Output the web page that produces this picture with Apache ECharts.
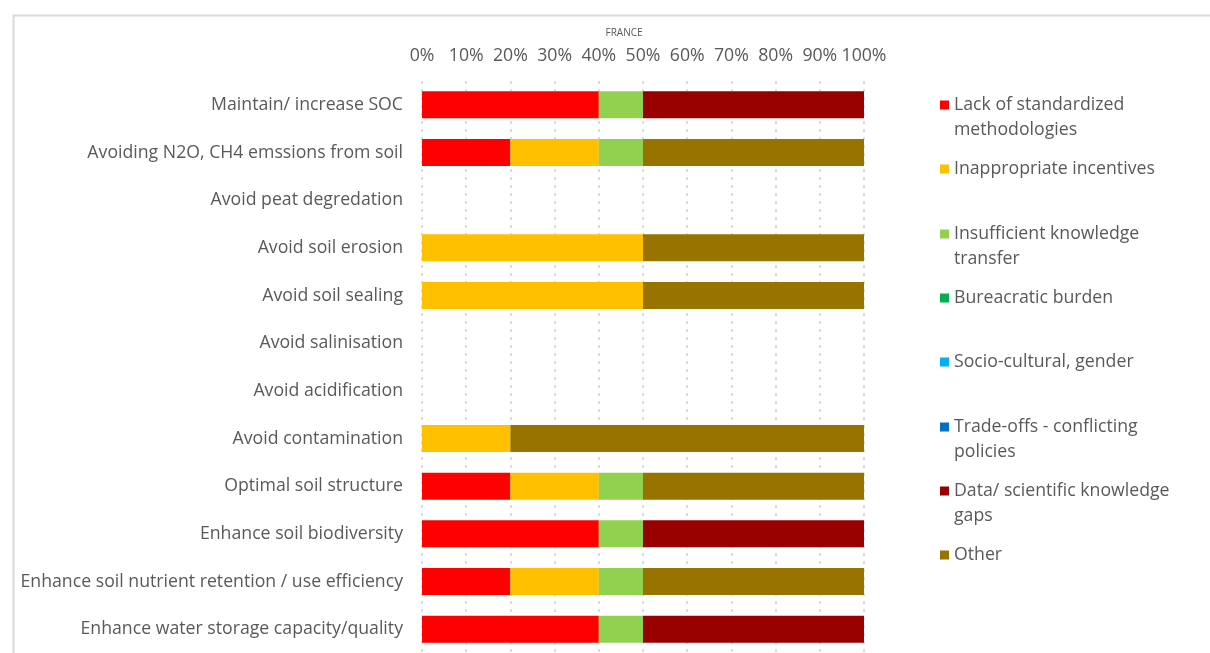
<!DOCTYPE html>
<html>
<head>
<meta charset="utf-8">
<title>France – barriers by soil objective</title>
<script src="https://cdn.jsdelivr.net/npm/echarts@6/dist/echarts.min.js"></script>
<style>
  html, body { margin: 0; padding: 0; background: #ffffff; }
  #chart { width: 1210px; height: 653px; }
</style>
</head>
<body>
<div id="chart"></div>
<script>
// Soil objectives (top to bottom)
const categories = [
  'Maintain/ increase SOC',
  'Avoiding N2O, CH4 emssions from soil',
  'Avoid peat degredation',
  'Avoid soil erosion',
  'Avoid soil sealing',
  'Avoid salinisation',
  'Avoid acidification',
  'Avoid contamination',
  'Optimal soil structure',
  'Enhance soil biodiversity',
  'Enhance soil nutrient retention / use efficiency',
  'Enhance water storage capacity/quality'
];

// Share of responses per barrier (%), one value per objective
const lackStandardized   = [40, 20, 0, 0, 0, 0, 0, 0, 20, 40, 20, 40];
const inappropriateInc   = [0, 20, 0, 50, 50, 0, 0, 20, 20, 0, 20, 0];
const insufficientTransf = [10, 10, 0, 0, 0, 0, 0, 0, 10, 10, 10, 10];
const bureaucratic       = [0, 0, 0, 0, 0, 0, 0, 0, 0, 0, 0, 0];
const socioCultural      = [0, 0, 0, 0, 0, 0, 0, 0, 0, 0, 0, 0];
const tradeOffs          = [0, 0, 0, 0, 0, 0, 0, 0, 0, 0, 0, 0];
const dataGaps           = [50, 0, 0, 0, 0, 0, 0, 0, 0, 50, 0, 50];
const other              = [0, 50, 0, 50, 50, 0, 0, 80, 50, 0, 50, 0];

// Percent axis ticks
const tickValues = [0, 10, 20, 30, 40, 50, 60, 70, 80, 90, 100];

const seriesDefs = [
  { name: 'Lack of standardized\nmethodologies', data: lackStandardized, color: '#FF0000' },
  { name: 'Inappropriate incentives', data: inappropriateInc, color: '#FFC000' },
  { name: 'Insufficient knowledge\ntransfer', data: insufficientTransf, color: '#92D050' },
  { name: 'Bureacratic burden', data: bureaucratic, color: '#00B050' },
  { name: 'Socio-cultural, gender', data: socioCultural, color: '#00B0F0' },
  { name: 'Trade-offs - conflicting\npolicies', data: tradeOffs, color: '#0070C0' },
  { name: 'Data/ scientific knowledge\ngaps', data: dataGaps, color: '#990000' },
  { name: 'Other', data: other, color: '#997300' }
];

// Icon centre heights of the legend entries
const legendIconY = [105, 169, 234, 298, 362, 427, 491, 555];

const FONT = '"Open Sans", Lato, sans-serif';
const FONT_SIZE = 17.7;
const TEXT_COLOR = '#595959';
const LINE_H = 25;

// Two-line entries get a blank leading line so the icon sits beside the first line
const legends = seriesDefs.map((s, i) => {
  const twoLines = s.name.indexOf('\n') >= 0;
  return {
    data: [s.name],
    orient: 'vertical',
    left: 940,
    top: legendIconY[i] - (twoLines ? 37.5 : 12.5),
    padding: 0,
    icon: 'rect',
    itemWidth: 9,
    itemHeight: 9,
    selectedMode: false,
    formatter: name => (twoLines ? ' \n' + name : name),
    textStyle: {
      fontFamily: FONT,
      fontSize: FONT_SIZE,
      color: TEXT_COLOR,
      lineHeight: LINE_H
    }
  };
});

const chart = echarts.init(document.getElementById('chart'), null, { renderer: 'canvas' });

chart.setOption({
  backgroundColor: '#ffffff',
  animation: false,
  title: {
    text: 'FRANCE',
    left: 619,
    top: 23,
    textAlign: 'center',
    textStyle: { fontFamily: FONT, fontSize: 10, fontWeight: 'normal', color: TEXT_COLOR }
  },
  legend: legends,
  grid: { left: 422, right: 346, top: 81, bottom: 0, containLabel: false },
  xAxis: {
    type: 'value',
    position: 'top',
    min: 0,
    max: 100,
    interval: 10,
    axisLine: { show: false },
    axisTick: { show: false },
    axisLabel: {
      formatter: v => (tickValues.indexOf(v) >= 0 ? v + '%' : ''),
      fontFamily: FONT,
      fontSize: FONT_SIZE,
      color: TEXT_COLOR,
      margin: 16
    },
    splitLine: {
      show: true,
      lineStyle: { color: '#dcdcdc', width: 2, type: [3, 5] }
    }
  },
  yAxis: {
    type: 'category',
    inverse: true,
    data: categories,
    axisLine: { show: false },
    axisTick: { show: false },
    axisLabel: {
      fontFamily: FONT,
      fontSize: FONT_SIZE,
      color: TEXT_COLOR,
      margin: 19,
      padding: [3, 0, 0, 0]
    }
  },
  series: seriesDefs.map(s => ({
    name: s.name,
    type: 'bar',
    stack: 'total',
    barWidth: 27,
    data: s.data,
    itemStyle: { color: s.color },
    emphasis: { disabled: true }
  })),
  graphic: [{
    type: 'rect',
    shape: { x: 13.5, y: 15.5, width: 1400, height: 800 },
    style: { fill: 'none', stroke: '#d9d9d9', lineWidth: 2 },
    silent: true
  }]
});
</script>
</body>
</html>
